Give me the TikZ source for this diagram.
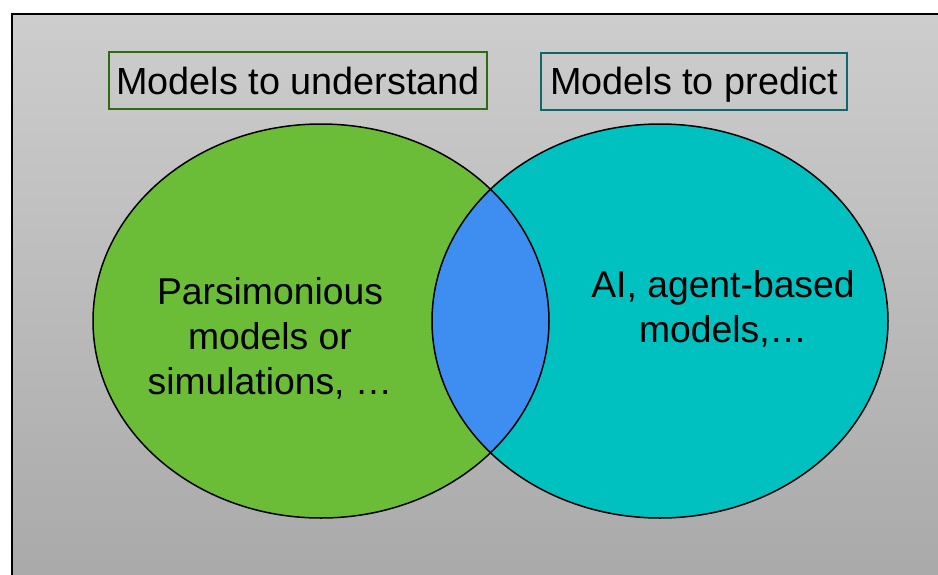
\documentclass[tikz,border=0pt]{standalone}
\usepackage{fontspec}
\setmainfont{Liberation Sans}
\definecolor{bgtop}{HTML}{CDCDCD}
\definecolor{bgbot}{HTML}{A8A8A8}
\definecolor{lgreen}{HTML}{6BBD38}
\definecolor{lcyan}{HTML}{00C0C0}
\definecolor{lblue}{HTML}{3D8EF0}
\definecolor{bgreen}{HTML}{2E6B0E}
\definecolor{bteal}{HTML}{0E6868}
\tikzset{
  labelbox/.style={draw=#1, line width=2pt, minimum height=57pt, inner sep=0pt,
    font=\fontsize{37.8}{45}\selectfont, text height=27pt, text depth=0pt},
  bodytext/.style={align=center, font=\fontsize{37.3}{45}\selectfont, inner sep=0pt},
  outline/.style={draw=black, line width=1.5pt}
}
\begin{document}
\begin{tikzpicture}[x=1pt,y=-1pt]
\useasboundingbox (0,0) rectangle (938,574);
\begin{scope}
\clip (0,0) rectangle (938,574);
\shade[top color=bgtop, bottom color=bgbot] (12,14) rectangle (960,600);
\draw[line width=2.5pt] (12,600) -- (12,14) -- (960,14);
\end{scope}
% ellipses
\fill[lgreen] (321,321) ellipse [x radius=228, y radius=197];
\fill[lcyan] (660,321) ellipse [x radius=228, y radius=197];
\begin{scope}
\clip (321,321) ellipse [x radius=228, y radius=197];
\fill[lblue] (660,321) ellipse [x radius=228, y radius=197];
\end{scope}
\draw[outline] (321,321) ellipse [x radius=228, y radius=197];
\draw[outline] (660,321) ellipse [x radius=228, y radius=197];
% labels
\node[labelbox=bgreen, minimum width=378pt] (und) at (298,80.5) {Models to understand};
\node[labelbox=bteal, minimum width=306pt] (pred) at (694,81) {Models to predict};
\node[bodytext] (pars) at (270,338) {Parsimonious\\models or\\simulations, …};
\node[bodytext] (ai) at (723,309) {AI, agent-based\\models,…};
\end{tikzpicture}
\end{document}
